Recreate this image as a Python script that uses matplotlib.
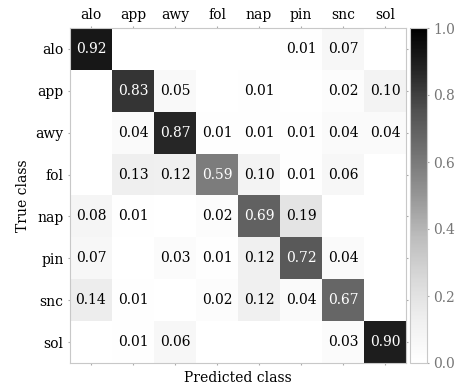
import numpy as np
import matplotlib
matplotlib.use('Agg')
import matplotlib.pyplot as plt

plt.rcParams['font.family'] = ['DejaVu Serif']

classes = ['alo', 'app', 'awy', 'fol', 'nap', 'pin', 'snc', 'sol']

# rows = true class, cols = predicted class
cm = np.array([
    [0.92, 0.00, 0.00, 0.00, 0.00, 0.01, 0.07, 0.00],
    [0.00, 0.83, 0.05, 0.00, 0.01, 0.00, 0.02, 0.10],
    [0.00, 0.04, 0.87, 0.01, 0.01, 0.01, 0.04, 0.04],
    [0.00, 0.13, 0.12, 0.59, 0.10, 0.01, 0.06, 0.00],
    [0.08, 0.01, 0.00, 0.02, 0.69, 0.19, 0.00, 0.00],
    [0.07, 0.00, 0.03, 0.01, 0.12, 0.72, 0.04, 0.00],
    [0.14, 0.01, 0.00, 0.02, 0.12, 0.04, 0.67, 0.00],
    [0.00, 0.01, 0.06, 0.00, 0.00, 0.00, 0.03, 0.90],
])

fig = plt.figure(figsize=(4.55, 3.85), dpi=100)
ax = fig.add_axes([70/455, 1 - 363/385, 336/455, 335/385])
cax = fig.add_axes([410/455, 1 - 363/385, 17/455, 335/385])

im = ax.imshow(cm, cmap='Greys', vmin=0, vmax=1, aspect='auto')

for i in range(len(classes)):
    for j in range(len(classes)):
        v = cm[i, j]
        if v > 0:
            ax.text(j, i, '%.2f' % v, ha='center', va='center', fontsize=10,
                    color='white' if v > 0.5 else 'black')

ax.set_xticks(range(len(classes)))
ax.set_yticks(range(len(classes)))
ax.set_xticklabels(classes, fontsize=10)
ax.set_yticklabels(classes, fontsize=10)
ax.xaxis.tick_top()
ax.tick_params(which='both', top=True, bottom=True, left=True, right=True,
               labeltop=True, labelbottom=False, length=1.5, width=0.8,
               color='#aaaaaa', pad=3)
for s in ax.spines.values():
    s.set_color('#c8c8c8')
    s.set_linewidth(0.8)

ax.set_xlabel('Predicted class', fontsize=10)
ax.xaxis.set_label_position('bottom')
ax.set_ylabel('True class', fontsize=10)

cb = fig.colorbar(im, cax=cax)
cb.set_ticks([0.0, 0.2, 0.4, 0.6, 0.8, 1.0])
cb.ax.tick_params(length=1.5, width=0.8, color='#aaaaaa', labelcolor='#777777',
                  labelsize=10, pad=3)
cb.outline.set_edgecolor('#c8c8c8')
cb.outline.set_linewidth(0.8)

fig.savefig('out.png', dpi=100)
